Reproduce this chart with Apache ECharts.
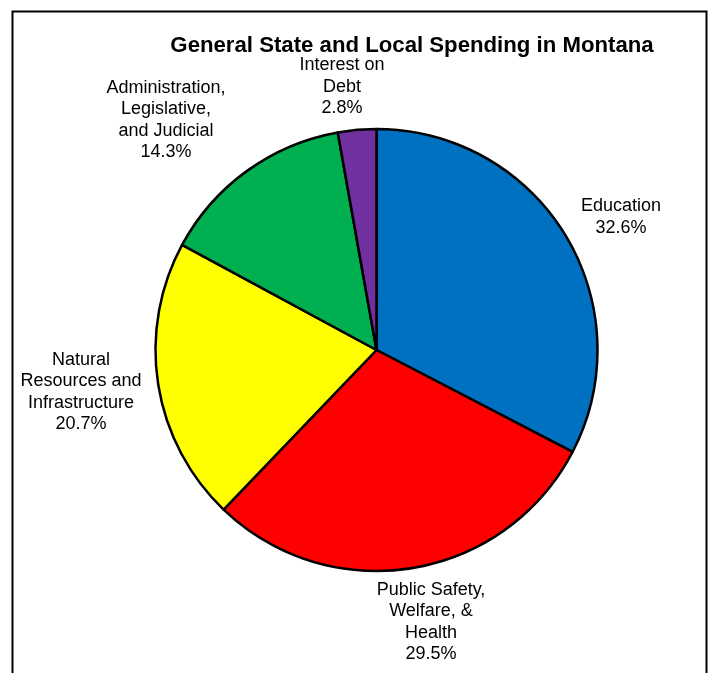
<!DOCTYPE html>
<html>
<head>
<meta charset="utf-8">
<script src="https://cdn.jsdelivr.net/npm/echarts@6/dist/echarts.min.js"></script>
<style>
  html, body { margin: 0; padding: 0; background: #fff; }
  #chart { width: 711px; height: 673px; }
</style>
</head>
<body>
<div id="chart"></div>
<script>
// Spending categories, clockwise from 12 o'clock
const categories = [
  'Education',
  'Public Safety,\nWelfare, &\nHealth',
  'Natural\nResources and\nInfrastructure',
  'Administration,\nLegislative,\nand Judicial',
  'Interest on\nDebt'
];
// Share of general spending, percent
const shares = [32.6, 29.5, 20.7, 14.3, 2.8];
const sliceColors = ['#0070C0', '#FF0000', '#FFFF00', '#00B050', '#7030A0'];
// Label box centres (px)
const labelAnchors = [[621, 217], [431, 622], [81, 392], [166, 120], [342, 87]];

const chart = echarts.init(document.getElementById('chart'));
const font = '"Liberation Sans", Arial, sans-serif';

chart.setOption({
  animation: false,
  backgroundColor: '#ffffff',
  title: {
    text: 'General State and Local Spending in Montana',
    left: 407,
    top: 30,
    textAlign: 'center',
    textStyle: { fontFamily: font, fontSize: 22.2, fontWeight: 'bold', color: '#000' }
  },
  graphic: [{
    type: 'rect',
    shape: { x: 12.5, y: 11.5, width: 694, height: 700 },
    style: { fill: 'none', stroke: '#000', lineWidth: 2 },
    silent: true
  }],
  series: [{
    type: 'pie',
    center: [376.5, 350],
    radius: [0, 221],
    startAngle: 90,
    clockwise: true,
    avoidLabelOverlap: false,
    data: categories.map((name, i) => ({
      name,
      value: shares[i],
      itemStyle: { color: sliceColors[i] }
    })),
    itemStyle: { borderColor: '#000', borderWidth: 2.5 },
    label: {
      show: true,
      position: 'outside',
      formatter: p => p.name + '\n' + p.value.toFixed(1) + '%',
      fontFamily: font,
      fontSize: 18,
      lineHeight: 21.5,
      color: '#000',
      align: 'center'
    },
    labelLine: { show: false },
    labelLayout: params => ({
      x: labelAnchors[params.dataIndex][0],
      y: labelAnchors[params.dataIndex][1],
      align: 'center',
      verticalAlign: 'middle'
    }),
    emphasis: { disabled: true }
  }]
});
</script>
</body>
</html>
